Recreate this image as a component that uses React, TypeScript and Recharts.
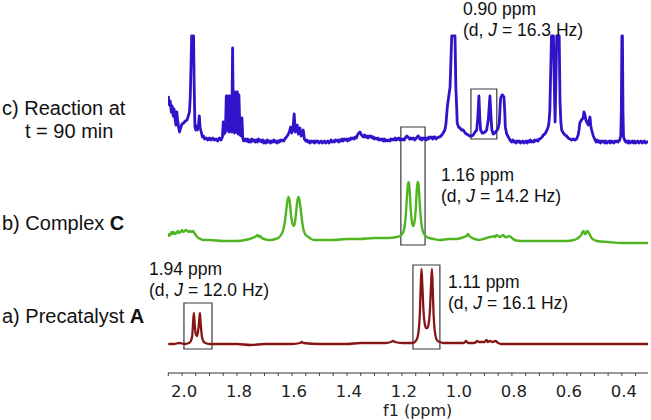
/**
 * 1H NMR stack plot
 * Precatalyst A, complex C and the reaction mixture at t = 90 min
 */
import { LineChart, Line, XAxis, YAxis, ReferenceArea } from 'recharts'

type Row = [number, number] // [ppm, intensity]

// c) reaction at t = 90 min (tall peaks are cut at the top of the plot)
const reactionRows: Row[] = [
  [2.050, 46], [2.046, 37], [2.043, 41], [2.039, 30], [2.036, 36], [2.032, 26], [2.029, 33],
  [2.025, 22], [2.022, 17], [2.019, 30], [2.016, 22], [2.012, 14], [2.009, 10], [2.005, 14],
  [2.000, 18], [1.994, 19], [1.988, 21], [1.982, 22], [1.977, 26], [1.973, 30], [1.970, 45],
  [1.967, 80], [1.965, 106], [1.958, 106], [1.956, 60], [1.953, 15], [1.950, 12], [1.947, 16],
  [1.944, 12], [1.940, 18], [1.937, 26], [1.934, 14], [1.930, 10], [1.926, 5], [1.922, 6],
  [1.918, 3], [1.912, 4], [1.906, 2], [1.900, 4], [1.894, 2], [1.888, 4], [1.882, 2],
  [1.876, 3], [1.870, 1], [1.864, 4], [1.858, 2],
  [1.853, 5], [1.850, 20], [1.847, 8], [1.842, 10], [1.839, 46], [1.835, 12], [1.832, 46],
  [1.829, 10], [1.826, 46], [1.823, 12], [1.819, 10], [1.816, 94], [1.813, 12], [1.809, 9],
  [1.806, 50], [1.803, 10], [1.799, 50], [1.796, 8], [1.793, 47], [1.789, 7], [1.785, 6],
  [1.782, 24], [1.779, 4], [1.776, 1],
  [1.770, 3], [1.766, 1], [1.762, 3], [1.758, 0], [1.754, 2], [1.750, 0], [1.746, 3],
  [1.742, 1], [1.738, 2], [1.734, 0], [1.730, 2], [1.726, 0], [1.722, 3], [1.718, 1],
  [1.714, 2], [1.710, 0], [1.706, 2], [1.702, -1], [1.698, 1], [1.694, -1], [1.690, 2],
  [1.686, 0], [1.682, 1], [1.678, -1], [1.674, 1], [1.670, 0], [1.666, 2], [1.662, 0],
  [1.658, 1], [1.654, -1], [1.650, 1], [1.646, 0], [1.642, 2], [1.638, 1], [1.634, 2],
  [1.630, 1], [1.626, 3], [1.620, 5],
  [1.615, 7], [1.610, 10], [1.605, 15], [1.601, 9], [1.597, 12], [1.592, 28], [1.588, 10],
  [1.584, 15], [1.581, 17], [1.577, 8], [1.574, 11], [1.571, 14], [1.567, 6], [1.563, 7],
  [1.559, 12], [1.555, 3], [1.550, 1],
  [1.546, 2], [1.542, 0], [1.538, 1], [1.534, -1], [1.530, 1], [1.526, 0], [1.522, 1],
  [1.518, -1], [1.514, 1], [1.510, 0], [1.506, 1], [1.502, -1], [1.498, 0], [1.494, 1],
  [1.490, -1], [1.486, 0], [1.482, 1], [1.478, -1], [1.474, 0], [1.470, 1], [1.466, -1],
  [1.462, 0], [1.458, 2], [1.454, 0], [1.450, 1], [1.446, 0], [1.442, 2], [1.438, 1],
  [1.434, 2], [1.430, 0], [1.426, 2], [1.422, 1], [1.418, 3], [1.414, 1], [1.410, 3],
  [1.406, 2], [1.402, 3], [1.398, 1], [1.394, 3], [1.390, 2], [1.386, 4], [1.382, 3],
  [1.378, 4], [1.374, 3], [1.370, 5], [1.366, 4], [1.360, 8], [1.353, 10], [1.347, 7],
  [1.343, 6], [1.340, 5], [1.336, 7], [1.332, 5], [1.328, 6], [1.324, 4], [1.320, 6],
  [1.316, 5], [1.312, 6], [1.308, 4], [1.304, 5], [1.300, 3], [1.296, 4], [1.292, 3],
  [1.288, 4], [1.284, 2], [1.280, 3], [1.276, 2], [1.272, 3], [1.268, 1], [1.264, 3],
  [1.260, 1], [1.256, 2], [1.252, 1], [1.248, 2], [1.244, 1], [1.240, 3], [1.236, 2],
  [1.232, 3], [1.228, 2], [1.224, 4], [1.220, 2], [1.216, 3], [1.212, 4], [1.208, 2],
  [1.204, 3], [1.200, 2], [1.196, 3], [1.192, 2], [1.188, 4], [1.182, 6], [1.178, 5],
  [1.172, 3], [1.168, 4], [1.165, 3], [1.158, 4], [1.154, 2], [1.150, 3], [1.145, 5],
  [1.140, 6], [1.135, 3], [1.131, 4], [1.128, 2], [1.124, 4], [1.120, 3], [1.116, 4],
  [1.112, 2], [1.108, 4], [1.104, 3], [1.100, 5], [1.096, 4], [1.092, 5], [1.088, 3],
  [1.084, 5], [1.080, 5], [1.076, 3], [1.072, 4], [1.066, 5], [1.062, 5], [1.055, 7],
  [1.050, 9], [1.044, 12], [1.040, 18], [1.035, 35],
  [1.030, 45], [1.025, 55], [1.022, 80], [1.019, 106], [1.007, 106], [1.004, 55], [1.001, 35],
  [0.999, 19], [0.994, 15], [0.989, 14], [0.983, 12], [0.977, 12], [0.970, 9], [0.965, 8],
  [0.959, 7], [0.953, 6], [0.947, 6], [0.941, 7], [0.934, 10], [0.928, 12], [0.924, 25],
  [0.920, 46], [0.917, 25], [0.914, 12], [0.908, 9], [0.904, 9], [0.898, 10], [0.892, 12],
  [0.886, 22], [0.880, 46], [0.876, 25], [0.873, 12], [0.868, 8], [0.862, 9], [0.856, 11],
  [0.851, 13], [0.846, 19], [0.843, 35], [0.841, 44], [0.836, 47], [0.834, 47], [0.829, 45],
  [0.826, 30], [0.824, 15], [0.819, 8], [0.813, 5], [0.807, 2], [0.801, 0], [0.797, 2],
  [0.793, 0], [0.789, 1], [0.785, -1], [0.781, 1], [0.777, 0], [0.773, 1], [0.769, -1],
  [0.765, 0], [0.761, 1], [0.757, -1], [0.753, 0], [0.749, 1], [0.745, -1], [0.741, 1],
  [0.737, 0], [0.733, 2], [0.729, 0], [0.725, 1], [0.721, 0], [0.717, 2], [0.713, 1],
  [0.709, 2], [0.705, 1], [0.701, 3], [0.698, 3], [0.690, 5], [0.686, 7],
  [0.680, 8], [0.674, 11], [0.668, 15], [0.665, 20], [0.662, 32], [0.659, 70], [0.656, 106],
  [0.649, 106], [0.646, 60], [0.643, 20], [0.640, 60], [0.637, 106], [0.628, 106], [0.625, 40],
  [0.622, 20], [0.619, 12], [0.613, 9], [0.607, 7], [0.601, 6], [0.595, 4], [0.589, 3],
  [0.583, 2], [0.577, 3], [0.571, 2], [0.565, 3], [0.559, 7], [0.556, 12], [0.553, 19],
  [0.547, 22], [0.541, 24], [0.538, 30], [0.535, 28], [0.531, 22], [0.528, 20], [0.522, 17],
  [0.519, 22], [0.516, 25], [0.513, 16], [0.510, 12], [0.504, 6], [0.499, 3], [0.494, 0],
  [0.490, 2], [0.486, 0], [0.482, 1], [0.478, -1], [0.474, 1], [0.470, 0], [0.466, 1],
  [0.462, -1], [0.458, 1], [0.454, -1], [0.450, 0], [0.446, 1], [0.442, -1], [0.438, 1],
  [0.434, 0], [0.430, -1], [0.426, 1], [0.422, 0], [0.418, 1], [0.414, 0], [0.408, 2],
  [0.404, 6], [0.402, 30], [0.400, 106], [0.398, 106], [0.396, 30], [0.394, 5], [0.390, 2],
  [0.386, 0], [0.382, 1], [0.378, -1], [0.374, 1], [0.370, -1], [0.366, 0], [0.362, 1],
  [0.358, -1], [0.354, 1], [0.350, -1], [0.346, 0], [0.342, 1], [0.338, -1], [0.334, 0],
  [0.330, 1], [0.326, -1], [0.322, 0], [0.318, 1], [0.314, -1], [0.310, 0], [0.305, 0],
]

// b) complex C
const complexRows: Row[] = [
  [2.050, 3], [2.046, 6], [2.042, 5], [2.038, 8], [2.034, 6], [2.030, 8], [2.025, 6],
  [2.020, 7], [2.015, 9], [2.010, 7], [2.005, 8], [2.000, 10], [1.995, 8], [1.990, 9],
  [1.985, 10], [1.980, 9], [1.975, 8], [1.970, 9], [1.965, 8], [1.960, 9], [1.955, 7],
  [1.950, 5], [1.945, 3], [1.940, 2], [1.932, 1], [1.922, 0], [1.900, 0], [1.850, -1],
  [1.800, -1], [1.770, 0], [1.755, 1], [1.745, 2], [1.735, 3], [1.730, 4], [1.725, 5],
  [1.720, 3], [1.715, 4], [1.710, 2], [1.700, 1], [1.690, 0], [1.675, 0], [1.660, 1],
  [1.650, 2], [1.640, 5], [1.632, 10], [1.625, 20], [1.620, 32], [1.616, 40], [1.612, 43],
  [1.608, 38], [1.603, 24], [1.598, 16], [1.594, 14], [1.590, 16], [1.586, 25], [1.581, 38],
  [1.577, 43], [1.573, 40], [1.568, 30], [1.563, 18], [1.557, 9], [1.550, 5], [1.540, 3],
  [1.530, 1], [1.520, 0], [1.450, 0], [1.400, 1], [1.353, 1], [1.300, 2], [1.250, 2],
  [1.220, 3], [1.207, 4], [1.200, 6], [1.195, 8], [1.190, 14], [1.186, 25], [1.182, 42],
  [1.178, 56], [1.175, 58], [1.172, 50], [1.168, 30], [1.163, 17], [1.159, 14], [1.155, 17],
  [1.150, 30], [1.146, 50], [1.143, 58], [1.140, 56], [1.136, 40], [1.132, 24], [1.128, 14],
  [1.123, 8], [1.117, 5], [1.110, 3], [1.100, 2], [1.085, 1], [1.060, 0], [1.030, 1],
  [1.000, 1], [0.985, 2], [0.975, 3], [0.965, 4], [0.960, 6], [0.955, 4], [0.945, 2],
  [0.935, 1], [0.920, 0], [0.905, 1], [0.892, 2], [0.882, 3], [0.874, 3], [0.866, 4],
  [0.860, 3], [0.856, 5], [0.850, 4], [0.844, 3], [0.838, 4], [0.832, 5], [0.825, 3],
  [0.818, 3], [0.810, 4], [0.800, 2], [0.790, 0], [0.770, -1], [0.740, -1], [0.700, -1],
  [0.650, -1], [0.600, -1], [0.575, 0], [0.565, 1], [0.555, 3], [0.548, 5], [0.543, 8],
  [0.539, 9], [0.535, 6], [0.531, 6], [0.527, 9], [0.522, 8], [0.516, 5], [0.510, 2],
  [0.500, 0], [0.490, -1], [0.450, -2], [0.400, -3], [0.350, -3], [0.305, -3],
]

// a) precatalyst A
const precatalystRows: Row[] = [
  [2.050, 0], [2.030, 0], [2.010, 1], [1.990, 0], [1.975, 1], [1.968, 3], [1.963, 8],
  [1.960, 20], [1.957, 31], [1.954, 20], [1.950, 10], [1.946, 8], [1.942, 12], [1.938, 22],
  [1.935, 31], [1.932, 20], [1.928, 8], [1.923, 3], [1.915, 1], [1.900, 0], [1.850, 0],
  [1.800, 0], [1.750, -1], [1.700, 0], [1.650, 0], [1.600, 0], [1.570, 1], [1.564, 2],
  [1.558, 1], [1.500, 0], [1.450, 0], [1.400, 0], [1.350, 1], [1.300, 1], [1.260, 1],
  [1.240, 2], [1.232, 3], [1.225, 2], [1.200, 1], [1.180, 1], [1.160, 1], [1.150, 3],
  [1.144, 6], [1.139, 14], [1.135, 30], [1.132, 55], [1.129, 75], [1.126, 60], [1.122, 35],
  [1.117, 20], [1.112, 16], [1.108, 16], [1.103, 20], [1.098, 35], [1.094, 60], [1.091, 75],
  [1.088, 55], [1.085, 30], [1.081, 14], [1.076, 6], [1.070, 3], [1.062, 2], [1.050, 1],
  [1.000, 1], [0.975, 1], [0.966, 3], [0.960, 1], [0.940, 1], [0.930, 2], [0.926, 3],
  [0.920, 2], [0.900, 2], [0.892, 4], [0.888, 2], [0.880, 3], [0.870, 2], [0.860, 3],
  [0.850, 1], [0.840, 0], [0.700, 0], [0.500, 0], [0.305, 0],
]

const xTicks = [
  2.05, 2.0, 1.95, 1.9, 1.85, 1.8, 1.75, 1.7, 1.65, 1.6, 1.55, 1.5, 1.45, 1.4, 1.35, 1.3,
  1.25, 1.2, 1.15, 1.1, 1.05, 1.0, 0.95, 0.9, 0.85, 0.8, 0.75, 0.7, 0.65, 0.6, 0.55, 0.5,
  0.45, 0.4, 0.35,
]
const xTickLabels = ['2.0', '1.8', '1.6', '1.4', '1.2', '1.0', '0.8', '0.6', '0.4']

// highlighted doublets: [spectrum axis, ppm from, ppm to, low, high]
const boxes: Array<[string, number, number, number, number]> = [
  ['c', 0.949, 0.855, 3, 53],
  ['b', 1.204, 1.116, -5, 113],
  ['a', 1.160, 1.062, -5, 79],
  ['a', 1.993, 1.891, -5, 41],
]

const toPoints = (rows: Row[]) => rows.map(([ppm, v]) => ({ ppm, v }))
const reactionData = toPoints(reactionRows)
const complexData = toPoints(complexRows)
const precatalystData = toPoints(precatalystRows)

const SANS = '"Liberation Sans", Arial, Helvetica, sans-serif'
const AXIS_FONT = '"DejaVu Sans", Verdana, sans-serif'

function renderTick(props: any) {
  const { x, y, payload } = props
  const label = payload.value.toFixed(1)
  if (!xTickLabels.includes(label) || Math.abs(payload.value * 5 - Math.round(payload.value * 5)) > 1e-6) {
    return <g />
  }
  return (
    <text x={x + 2} y={y} dy={19} textAnchor="middle" fontFamily={AXIS_FONT} fontSize={16.5} fill="#222">
      {label}
    </text>
  )
}

function Note({ x, y, ppm, j }: { x: number; y: number; ppm: string; j: string }) {
  return (
    <g fontFamily={SANS} fontSize={17.5} fill="#111">
      <text x={x} y={y}>{ppm} ppm</text>
      <text x={x} y={y + 21}>
        (d, <tspan fontStyle="italic">J</tspan> = {j} Hz)
      </text>
    </g>
  )
}

export default function App() {
  return (
    <div style={{ position: 'absolute', left: 0, top: 0, width: 651, height: 420, background: '#fff' }}>
      <LineChart width={651} height={420} margin={{ top: 0, right: 3, bottom: 7, left: 168 }}>
        <XAxis
          type="number"
          dataKey="ppm"
          domain={[0.305, 2.051]}
          reversed
          allowDataOverflow
          ticks={xTicks}
          interval={0}
          tickSize={3}
          height={40}
          tick={renderTick}
          axisLine={{ stroke: '#333' }}
          tickLine={{ stroke: '#444' }}
        />
        <YAxis yAxisId="c" hide domain={[-231, 142]} allowDataOverflow />
        <YAxis yAxisId="b" hide domain={[-133, 240]} allowDataOverflow />
        <YAxis yAxisId="a" hide domain={[-29, 344]} allowDataOverflow />
        <Line
          yAxisId="c"
          data={reactionData}
          dataKey="v"
          type="linear"
          stroke="#3213c9"
          strokeWidth={2.8}
          strokeLinejoin="round"
          dot={false}
          isAnimationActive={false}
        />
        <Line
          yAxisId="b"
          data={complexData}
          dataKey="v"
          type="monotone"
          stroke="#4fb521"
          strokeWidth={2.4}
          dot={false}
          isAnimationActive={false}
        />
        <Line
          yAxisId="a"
          data={precatalystData}
          dataKey="v"
          type="monotone"
          stroke="#861616"
          strokeWidth={2.3}
          dot={false}
          isAnimationActive={false}
        />
        {boxes.map(([axis, x1, x2, y1, y2], i) => (
          <ReferenceArea
            key={`box-${i}`}
            yAxisId={axis}
            x1={x1}
            x2={x2}
            y1={y1}
            y2={y2}
            fill="none"
            fillOpacity={0}
            stroke="#3a3a3a"
            strokeWidth={1.2}
            ifOverflow="visible"
          />
        ))}
      </LineChart>
      <svg width={651} height={420} style={{ position: 'absolute', left: 0, top: 0, pointerEvents: 'none' }}>
        <g fontFamily={SANS} fontSize={20} fill="#111">
          <text x={2} y={115}>c) Reaction at</text>
          <text x={25} y={138}>t = 90 min</text>
          <text x={2} y={230}>
            b) Complex <tspan fontWeight="bold">C</tspan>
          </text>
          <text x={2} y={323}>
            a) Precatalyst <tspan fontWeight="bold">A</tspan>
          </text>
        </g>
        <Note x={463} y={15} ppm="0.90" j="16.3" />
        <Note x={441} y={181} ppm="1.16" j="14.2" />
        <Note x={448} y={288} ppm="1.11" j="16.1" />
        <Note x={149} y={275} ppm="1.94" j="12.0" />
        <text x={383} y={416} fontFamily={AXIS_FONT} fontSize={16} fill="#222">
          f1 (ppm)
        </text>
      </svg>
    </div>
  )
}
